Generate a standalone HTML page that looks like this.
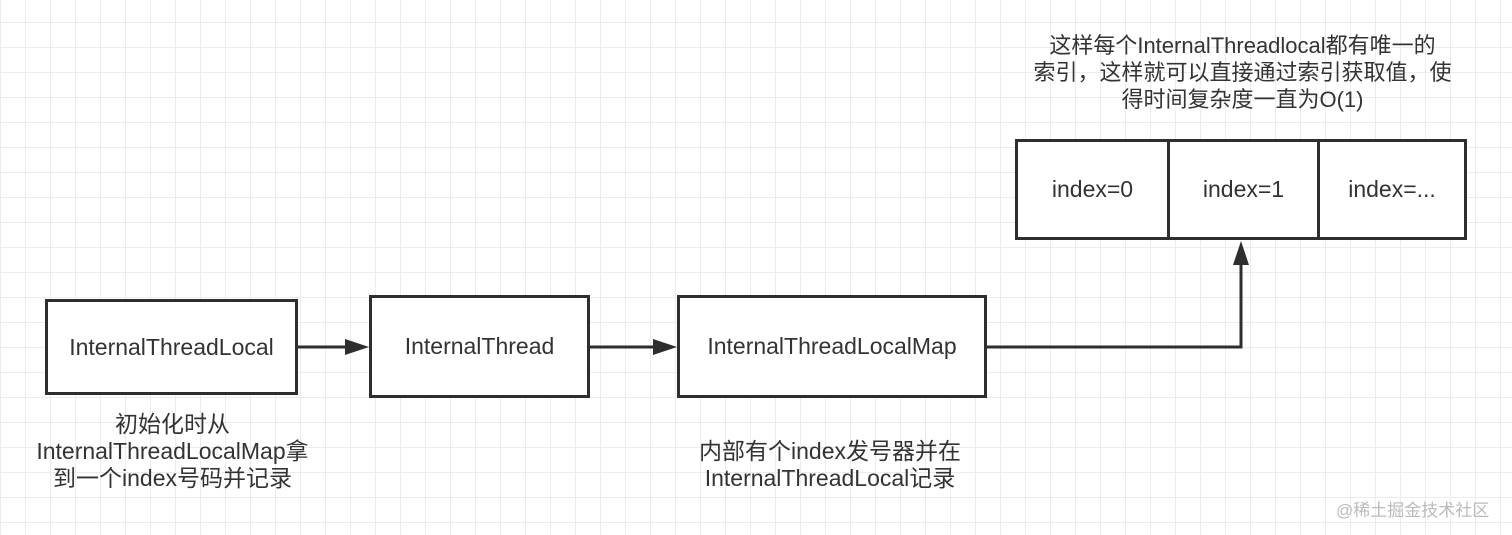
<!DOCTYPE html>
<html><head><meta charset="utf-8"><style>
html,body{margin:0;padding:0}
body{width:1512px;height:535px;position:relative;overflow:hidden;background-color:#fff;
background-image:linear-gradient(#ececec 1px,transparent 1px),linear-gradient(90deg,#ececec 1px,transparent 1px);
background-size:25px 25px;background-position:0 22px;
font-family:"Liberation Sans","Noto Sans CJK SC",sans-serif;color:#333}
.box{position:absolute;border:3px solid #2e2e2e;background:#fff;box-sizing:border-box;display:flex;align-items:center;justify-content:center;font-size:23px}
.t{position:absolute;text-align:center;font-size:22px;line-height:27px;color:#333;white-space:nowrap}
</style></head><body>
<div class="box" style="left:45px;top:299px;width:253px;height:96px">InternalThreadLocal</div>
<div class="box" style="left:369px;top:295px;width:221px;height:103px">InternalThread</div>
<div class="box" style="left:677px;top:295px;width:310px;height:103px">InternalThreadLocalMap</div>
<div class="box" style="left:1015px;top:139px;width:452px;height:101px;justify-content:flex-start">
<div style="width:149px;height:100%;display:flex;align-items:center;justify-content:center;border-right:3px solid #2e2e2e">index=0</div>
<div style="width:147px;height:100%;display:flex;align-items:center;justify-content:center;border-right:3px solid #2e2e2e">index=1</div>
<div style="flex:1;height:100%;display:flex;align-items:center;justify-content:center">index=...</div>
</div>
<svg style="position:absolute;left:0;top:0" width="1512" height="535">
<g stroke="#2e2e2e" stroke-width="3" fill="none">
<line x1="298" y1="347" x2="350" y2="347"/>
<line x1="590" y1="347" x2="660" y2="347"/>
<polyline points="987,347 1241,347 1241,262"/>
</g>
<g fill="#2e2e2e">
<polygon points="369,347 345,339 345,355"/>
<polygon points="677,347 653,339 653,355"/>
<polygon points="1241,241 1233,265 1249,265"/>
</g>
</svg>
<div class="t" style="left:0;top:411px;width:345px;font-size:23px">初始化时从<br>InternalThreadLocalMap拿<br>到一个index号码并记录</div>
<div class="t" style="left:660px;top:438px;width:340px;font-size:23px">内部有个index发号器并在<br>InternalThreadLocal记录</div>
<div class="t" style="left:1010px;top:32px;width:465px">这样每个InternalThreadlocal都有唯一的<br>索引，这样就可以直接通过索引获取值，使<br>得时间复杂度一直为O(1)</div>
<div style="position:absolute;left:1336px;top:496px;font-size:17px;color:#bbb">@稀土掘金技术社区</div>
</body></html>
